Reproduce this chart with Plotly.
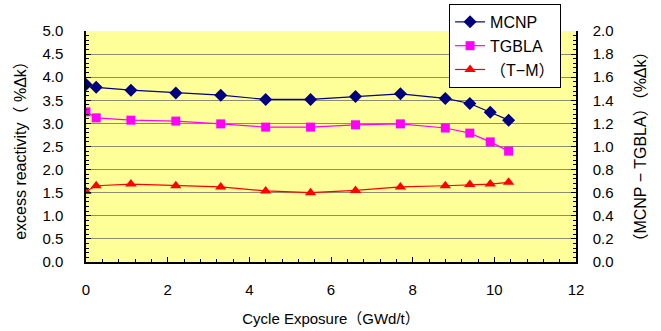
import plotly.graph_objects as go

exposure = [0.0, 0.25, 1.1, 2.2, 3.3, 4.4, 5.5, 6.6, 7.7, 8.8, 9.4, 9.9, 10.35]
mcnp = [3.84, 3.78, 3.72, 3.66, 3.61, 3.52, 3.52, 3.58, 3.64, 3.54, 3.43, 3.24, 3.07]
tgbla = [3.25, 3.12, 3.07, 3.05, 2.99, 2.92, 2.92, 2.97, 2.99, 2.90, 2.79, 2.60, 2.40]
diff = [0.61, 0.66, 0.675, 0.66, 0.65, 0.615, 0.60, 0.62, 0.65, 0.66, 0.67, 0.675, 0.69]

FONT = "Liberation Sans, Arial, Noto Sans CJK JP, sans-serif"

fig = go.Figure()
fig.add_trace(go.Scatter(x=exposure, y=mcnp, name="MCNP", mode="lines+markers",
                         line=dict(color="#000080", width=1.2),
                         marker=dict(symbol="diamond", size=10, color="#000080")))
fig.add_trace(go.Scatter(x=exposure, y=tgbla, name="TGBLA", mode="lines+markers",
                         line=dict(color="#FF00FF", width=1.2),
                         marker=dict(symbol="square", size=9, color="#FF00FF")))
fig.add_trace(go.Scatter(x=exposure, y=diff, name="（T−M）", mode="lines+markers", yaxis="y2",
                         line=dict(color="#FF0000", width=1.2),
                         marker=dict(symbol="triangle-up", size=10, color="#FF0000")))

fig.update_layout(
    width=661, height=331,
    margin=dict(l=86, r=85, t=31, b=69, autoexpand=False),
    paper_bgcolor="white",
    plot_bgcolor="#FFFF99",
    font=dict(family=FONT, size=15, color="black"),
    showlegend=True,
    legend=dict(x=0.741, y=1.117, xanchor="left", yanchor="top",
                bgcolor="white", bordercolor="black", borderwidth=1,
                font=dict(size=16), tracegroupgap=0, itemwidth=30),
    xaxis=dict(range=[0, 12], dtick=2, tick0=0, showgrid=False, automargin=False,
               showline=True, linecolor="black", linewidth=1.5,
               ticks="inside", ticklen=5, tickcolor="black",
               minor=dict(dtick=0.4, ticks="inside", ticklen=3, tickcolor="black"),
               ticklabelstandoff=13, zeroline=False,
               title=dict(text="Cycle Exposure（GWd/t）", font=dict(size=15), standoff=17)),
    yaxis=dict(range=[0, 5], dtick=0.5, tickformat=".1f", showgrid=True, automargin=False,
               gridcolor="#8C8C6E", gridwidth=1,
               showline=True, linecolor="black", linewidth=1.5,
               ticks="inside", ticklen=5, tickcolor="black",
               minor=dict(dtick=0.1, ticks="inside", ticklen=3, tickcolor="black", showgrid=False),
               ticklabelstandoff=18, zeroline=False,
               title=dict(text="excess reactivity（ %Δk）", font=dict(size=16), standoff=12)),
    yaxis2=dict(range=[0, 2], dtick=0.2, tickformat=".1f", overlaying="y", side="right",
                automargin=False,
                showgrid=False, showline=True, linecolor="black", linewidth=1.5,
                ticks="inside", ticklen=5, tickcolor="black",
                minor=dict(dtick=0.04, ticks="inside", ticklen=3, tickcolor="black"),
                ticklabelstandoff=12, zeroline=False,
                title=dict(text="（MCNP − TGBLA）（%Δk）", font=dict(size=16), standoff=22)),
)

fig.write_html("out.html")
